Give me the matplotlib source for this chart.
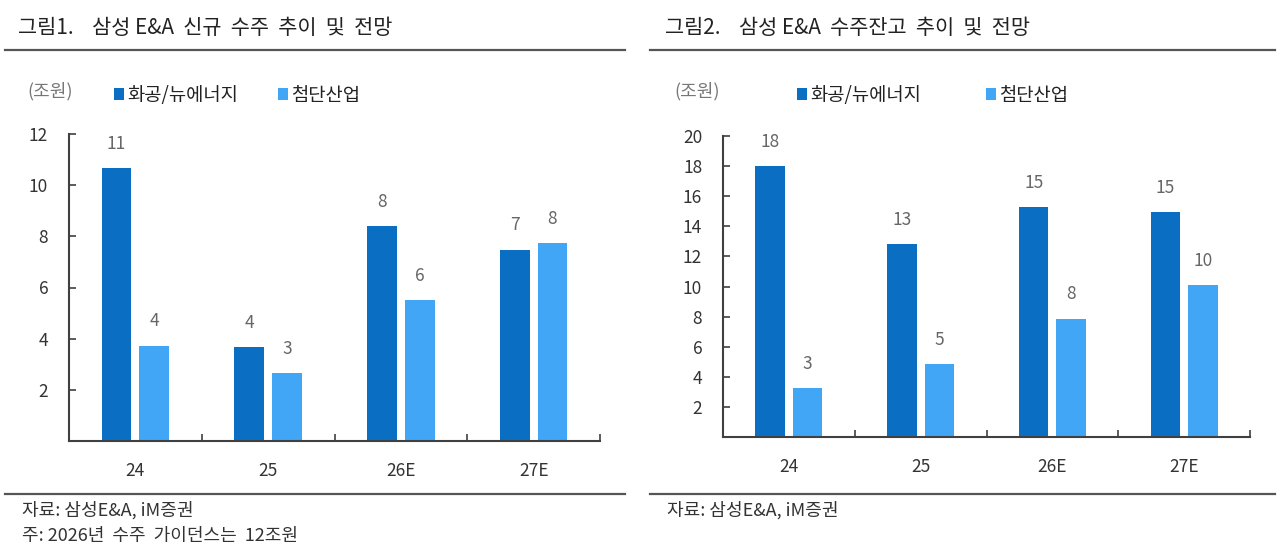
import matplotlib
matplotlib.use("Agg")
import matplotlib.pyplot as plt
from matplotlib.lines import Line2D
from matplotlib.legend import Legend
import numpy as np

plt.rcParams['font.family'] = ['Noto Sans CJK KR', 'DejaVu Sans']

categories = ["24", "25", "26E", "27E"]
series_names = ["화공/뉴에너지", "첨단산업"]

# Figure 1: new orders (조원)
new_orders_chem = [10.66, 3.68, 8.39, 7.48]
new_orders_adv = [3.73, 2.64, 5.51, 7.72]

# Figure 2: order backlog (조원)
backlog_chem = [17.98, 12.82, 15.29, 14.93]
backlog_adv = [3.27, 4.84, 7.87, 10.11]

titles = ["그림1.    삼성 E&A  신규  수주  추이  및  전망", "그림2.    삼성 E&A  수주잔고  추이  및  전망"]
sources = [["자료: 삼성E&A, iM증권", "주: 2026년  수주  가이던스는  12조원"], ["자료: 삼성E&A, iM증권"]]
unit = "(조원)"

DARK = "#0A6FC3"
LIGHT = "#41A6F6"
AXC = "#404040"
TXT = "#333333"
LBL = "#666666"

W, H = 1280, 560
fig = plt.figure(figsize=(W / 100, H / 100), dpi=100)


def fx(px):
    return px / W


def fy(py):
    return 1 - py / H


panels = [
    dict(data=(new_orders_chem, new_orders_adv), ymax=12, ticks=np.arange(2, 13, 2),
         ax=(69, 134, 600, 441), xl=5, xr=625, title_x=18, unit_x=27, leg_x=(114, 278)),
    dict(data=(backlog_chem, backlog_adv), ymax=20, ticks=np.arange(2, 21, 2),
         ax=(723, 136, 1250, 437), xl=650, xr=1275, title_x=665, unit_x=674, leg_x=(797, 986)),
]

for i, p in enumerate(panels):
    l, t, r, b = p['ax']
    ax = fig.add_axes([fx(l), fy(b), fx(r - l), (b - t) / H])
    x = np.arange(len(categories))
    w = 0.225
    off = 0.142
    b1 = ax.bar(x - off, p['data'][0], w, color=DARK, label=series_names[0])
    b2 = ax.bar(x + off, p['data'][1], w, color=LIGHT, label=series_names[1])
    for bars in (b1, b2):
        ax.bar_label(bars, labels=[f"{v:.0f}" for v in bars.datavalues], padding=11,
                     color=LBL, fontsize=12.5)
    ax.set_xlim(-0.5, len(categories) - 0.5)
    ax.set_ylim(0, p['ymax'])
    ax.set_yticks(p['ticks'])
    ax.set_yticklabels([f"{v:d}" for v in p['ticks']])
    ax.set_xticks(np.arange(-0.5, len(categories), 1.0))
    ax.set_xticklabels([])
    ax.set_xticks(x, minor=True)
    ax.set_xticklabels(categories, minor=True)
    ax.tick_params(axis='x', which='major', direction='in', length=5, color=AXC, width=1.2)
    ax.tick_params(axis='x', which='minor', length=0, pad=15, labelsize=12.5, labelcolor=TXT)
    ax.tick_params(axis='y', direction='in', length=5, color=AXC, width=1.2, pad=15,
                   labelsize=12.5, labelcolor=TXT)
    for s in ('top', 'right'):
        ax.spines[s].set_visible(False)
    for s in ('left', 'bottom'):
        ax.spines[s].set_color(AXC)
        ax.spines[s].set_linewidth(1.5)

    # title and rules
    fig.text(fx(p['title_x']), fy(28), titles[i], fontsize=15, color="#222222",
             va='center', ha='left')
    fig.add_artist(Line2D([fx(p['xl']), fx(p['xr'])], [fy(50), fy(50)], color="#555555", lw=1.6))
    fig.add_artist(Line2D([fx(p['xl']), fx(p['xr'])], [fy(494), fy(494)], color="#555555", lw=1.6))

    fig.text(fx(p['unit_x']), fy(91), unit, fontsize=13, color="#777777", va='center', ha='left')
    for k, h in enumerate((b1, b2)):
        leg = Legend(ax, [h], [series_names[k]], loc='center left',
                     bbox_to_anchor=(fx(p['leg_x'][k]), fy(95)),
                     bbox_transform=fig.transFigure, frameon=False, fontsize=13.5,
                     handlelength=0.55, handleheight=0.55, handletextpad=0.15,
                     borderpad=0, borderaxespad=0)
        for t_ in leg.get_texts():
            t_.set_color("#222222")
        ax.add_artist(leg)

    for j, s in enumerate(sources[i]):
        fig.text(fx(p['xl'] + 17), fy(510 + 26 * j), s, fontsize=13, color="#333333",
                 va='center', ha='left')

fig.savefig("out.png", dpi=100, facecolor='white')
